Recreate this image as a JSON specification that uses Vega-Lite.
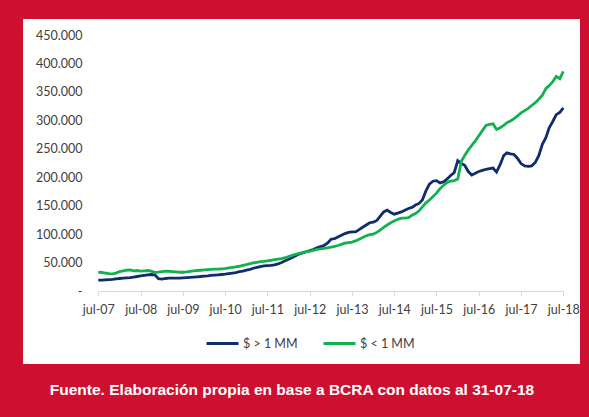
{
  "$schema": "https://vega.github.io/schema/vega-lite/v6.json",
  "width": 557,
  "height": 345,
  "autosize": {"type": "none"},
  "padding": {"left": 23, "top": 19, "right": 9, "bottom": 53},
  "background": "#CE1030",
  "title": {
    "text": "Fuente. Elaboración propia en base a BCRA con datos al 31-07-18",
    "orient": "bottom",
    "anchor": "middle",
    "frame": "group",
    "color": "white",
    "font": "Liberation Sans",
    "fontWeight": "bold",
    "fontSize": 15.5,
    "offset": 19,
    "dx": -9.5
  },
  "config": {
    "view": {"fill": "white", "stroke": null},
    "locale": {"number": {"decimal": ",", "thousands": ".", "grouping": [3], "currency": ["$", ""]}}
  },
  "data": {
    "format": {"parse": {"fecha": "date:'%Y-%m'"}},
    "values": [
      {"fecha": "2007-07", "$ > 1 MM": 19000, "$ < 1 MM": 33000},
      {"fecha": "2007-08", "$ > 1 MM": 19000, "$ < 1 MM": 32500},
      {"fecha": "2007-09", "$ > 1 MM": 19500, "$ < 1 MM": 31500},
      {"fecha": "2007-10", "$ > 1 MM": 20000, "$ < 1 MM": 30500},
      {"fecha": "2007-11", "$ > 1 MM": 20500, "$ < 1 MM": 30000},
      {"fecha": "2007-12", "$ > 1 MM": 21500, "$ < 1 MM": 31500},
      {"fecha": "2008-01", "$ > 1 MM": 22000, "$ < 1 MM": 34000},
      {"fecha": "2008-02", "$ > 1 MM": 22500, "$ < 1 MM": 35500},
      {"fecha": "2008-03", "$ > 1 MM": 23000, "$ < 1 MM": 36500},
      {"fecha": "2008-04", "$ > 1 MM": 23500, "$ < 1 MM": 37000},
      {"fecha": "2008-05", "$ > 1 MM": 24500, "$ < 1 MM": 35500},
      {"fecha": "2008-06", "$ > 1 MM": 25500, "$ < 1 MM": 36000},
      {"fecha": "2008-07", "$ > 1 MM": 26500, "$ < 1 MM": 35000},
      {"fecha": "2008-08", "$ > 1 MM": 27500, "$ < 1 MM": 35500},
      {"fecha": "2008-09", "$ > 1 MM": 28500, "$ < 1 MM": 36000},
      {"fecha": "2008-10", "$ > 1 MM": 29000, "$ < 1 MM": 35000},
      {"fecha": "2008-11", "$ > 1 MM": 28500, "$ < 1 MM": 32500},
      {"fecha": "2008-12", "$ > 1 MM": 21500, "$ < 1 MM": 33000},
      {"fecha": "2009-01", "$ > 1 MM": 21000, "$ < 1 MM": 34000},
      {"fecha": "2009-02", "$ > 1 MM": 22000, "$ < 1 MM": 35000},
      {"fecha": "2009-03", "$ > 1 MM": 22500, "$ < 1 MM": 34500},
      {"fecha": "2009-04", "$ > 1 MM": 22500, "$ < 1 MM": 34000},
      {"fecha": "2009-05", "$ > 1 MM": 22500, "$ < 1 MM": 33500},
      {"fecha": "2009-06", "$ > 1 MM": 22500, "$ < 1 MM": 33000},
      {"fecha": "2009-07", "$ > 1 MM": 23000, "$ < 1 MM": 33000},
      {"fecha": "2009-08", "$ > 1 MM": 23500, "$ < 1 MM": 33500},
      {"fecha": "2009-09", "$ > 1 MM": 24000, "$ < 1 MM": 34500},
      {"fecha": "2009-10", "$ > 1 MM": 24500, "$ < 1 MM": 35500},
      {"fecha": "2009-11", "$ > 1 MM": 25000, "$ < 1 MM": 36000},
      {"fecha": "2009-12", "$ > 1 MM": 25500, "$ < 1 MM": 36500},
      {"fecha": "2010-01", "$ > 1 MM": 26000, "$ < 1 MM": 37000},
      {"fecha": "2010-02", "$ > 1 MM": 26500, "$ < 1 MM": 37500},
      {"fecha": "2010-03", "$ > 1 MM": 27500, "$ < 1 MM": 38000},
      {"fecha": "2010-04", "$ > 1 MM": 28000, "$ < 1 MM": 38500},
      {"fecha": "2010-05", "$ > 1 MM": 28500, "$ < 1 MM": 38500},
      {"fecha": "2010-06", "$ > 1 MM": 29000, "$ < 1 MM": 39000},
      {"fecha": "2010-07", "$ > 1 MM": 29500, "$ < 1 MM": 39500},
      {"fecha": "2010-08", "$ > 1 MM": 30500, "$ < 1 MM": 40500},
      {"fecha": "2010-09", "$ > 1 MM": 31500, "$ < 1 MM": 41500},
      {"fecha": "2010-10", "$ > 1 MM": 32500, "$ < 1 MM": 42500},
      {"fecha": "2010-11", "$ > 1 MM": 34000, "$ < 1 MM": 43500},
      {"fecha": "2010-12", "$ > 1 MM": 35000, "$ < 1 MM": 45000},
      {"fecha": "2011-01", "$ > 1 MM": 36500, "$ < 1 MM": 46500},
      {"fecha": "2011-02", "$ > 1 MM": 38000, "$ < 1 MM": 48000},
      {"fecha": "2011-03", "$ > 1 MM": 40000, "$ < 1 MM": 49500},
      {"fecha": "2011-04", "$ > 1 MM": 41500, "$ < 1 MM": 50500},
      {"fecha": "2011-05", "$ > 1 MM": 43000, "$ < 1 MM": 51500},
      {"fecha": "2011-06", "$ > 1 MM": 44000, "$ < 1 MM": 52000},
      {"fecha": "2011-07", "$ > 1 MM": 44500, "$ < 1 MM": 53000},
      {"fecha": "2011-08", "$ > 1 MM": 45000, "$ < 1 MM": 54000},
      {"fecha": "2011-09", "$ > 1 MM": 46000, "$ < 1 MM": 55000},
      {"fecha": "2011-10", "$ > 1 MM": 47500, "$ < 1 MM": 56000},
      {"fecha": "2011-11", "$ > 1 MM": 50000, "$ < 1 MM": 57000},
      {"fecha": "2011-12", "$ > 1 MM": 53000, "$ < 1 MM": 58500},
      {"fecha": "2012-01", "$ > 1 MM": 56000, "$ < 1 MM": 60500},
      {"fecha": "2012-02", "$ > 1 MM": 59000, "$ < 1 MM": 62500},
      {"fecha": "2012-03", "$ > 1 MM": 62000, "$ < 1 MM": 64500},
      {"fecha": "2012-04", "$ > 1 MM": 65000, "$ < 1 MM": 66000},
      {"fecha": "2012-05", "$ > 1 MM": 67000, "$ < 1 MM": 67500},
      {"fecha": "2012-06", "$ > 1 MM": 69000, "$ < 1 MM": 69000},
      {"fecha": "2012-07", "$ > 1 MM": 71000, "$ < 1 MM": 70000},
      {"fecha": "2012-08", "$ > 1 MM": 73000, "$ < 1 MM": 71500},
      {"fecha": "2012-09", "$ > 1 MM": 76000, "$ < 1 MM": 73000},
      {"fecha": "2012-10", "$ > 1 MM": 78000, "$ < 1 MM": 74000},
      {"fecha": "2012-11", "$ > 1 MM": 80000, "$ < 1 MM": 75000},
      {"fecha": "2012-12", "$ > 1 MM": 84000, "$ < 1 MM": 76000},
      {"fecha": "2013-01", "$ > 1 MM": 91000, "$ < 1 MM": 77000},
      {"fecha": "2013-02", "$ > 1 MM": 92000, "$ < 1 MM": 78500},
      {"fecha": "2013-03", "$ > 1 MM": 95000, "$ < 1 MM": 80000},
      {"fecha": "2013-04", "$ > 1 MM": 98000, "$ < 1 MM": 82000},
      {"fecha": "2013-05", "$ > 1 MM": 101000, "$ < 1 MM": 84000},
      {"fecha": "2013-06", "$ > 1 MM": 103000, "$ < 1 MM": 85000},
      {"fecha": "2013-07", "$ > 1 MM": 104000, "$ < 1 MM": 86000},
      {"fecha": "2013-08", "$ > 1 MM": 104000, "$ < 1 MM": 88000},
      {"fecha": "2013-09", "$ > 1 MM": 108000, "$ < 1 MM": 91000},
      {"fecha": "2013-10", "$ > 1 MM": 112000, "$ < 1 MM": 94000},
      {"fecha": "2013-11", "$ > 1 MM": 116000, "$ < 1 MM": 97000},
      {"fecha": "2013-12", "$ > 1 MM": 120000, "$ < 1 MM": 99000},
      {"fecha": "2014-01", "$ > 1 MM": 121000, "$ < 1 MM": 100000},
      {"fecha": "2014-02", "$ > 1 MM": 124000, "$ < 1 MM": 103000},
      {"fecha": "2014-03", "$ > 1 MM": 131000, "$ < 1 MM": 107000},
      {"fecha": "2014-04", "$ > 1 MM": 139000, "$ < 1 MM": 112000},
      {"fecha": "2014-05", "$ > 1 MM": 142000, "$ < 1 MM": 116000},
      {"fecha": "2014-06", "$ > 1 MM": 138000, "$ < 1 MM": 120000},
      {"fecha": "2014-07", "$ > 1 MM": 135000, "$ < 1 MM": 123000},
      {"fecha": "2014-08", "$ > 1 MM": 137000, "$ < 1 MM": 126000},
      {"fecha": "2014-09", "$ > 1 MM": 139000, "$ < 1 MM": 128000},
      {"fecha": "2014-10", "$ > 1 MM": 142000, "$ < 1 MM": 128000},
      {"fecha": "2014-11", "$ > 1 MM": 145000, "$ < 1 MM": 129000},
      {"fecha": "2014-12", "$ > 1 MM": 147000, "$ < 1 MM": 133000},
      {"fecha": "2015-01", "$ > 1 MM": 151000, "$ < 1 MM": 136000},
      {"fecha": "2015-02", "$ > 1 MM": 154000, "$ < 1 MM": 141000},
      {"fecha": "2015-03", "$ > 1 MM": 160000, "$ < 1 MM": 148000},
      {"fecha": "2015-04", "$ > 1 MM": 176000, "$ < 1 MM": 155000},
      {"fecha": "2015-05", "$ > 1 MM": 188000, "$ < 1 MM": 160000},
      {"fecha": "2015-06", "$ > 1 MM": 193000, "$ < 1 MM": 166000},
      {"fecha": "2015-07", "$ > 1 MM": 194000, "$ < 1 MM": 172000},
      {"fecha": "2015-08", "$ > 1 MM": 190000, "$ < 1 MM": 180000},
      {"fecha": "2015-09", "$ > 1 MM": 192000, "$ < 1 MM": 186000},
      {"fecha": "2015-10", "$ > 1 MM": 197000, "$ < 1 MM": 191000},
      {"fecha": "2015-11", "$ > 1 MM": 203000, "$ < 1 MM": 193000},
      {"fecha": "2015-12", "$ > 1 MM": 208000, "$ < 1 MM": 194000},
      {"fecha": "2016-01", "$ > 1 MM": 229000, "$ < 1 MM": 197000},
      {"fecha": "2016-02", "$ > 1 MM": 224000, "$ < 1 MM": 228000},
      {"fecha": "2016-03", "$ > 1 MM": 221000, "$ < 1 MM": 238000},
      {"fecha": "2016-04", "$ > 1 MM": 210000, "$ < 1 MM": 248000},
      {"fecha": "2016-05", "$ > 1 MM": 204000, "$ < 1 MM": 256000},
      {"fecha": "2016-06", "$ > 1 MM": 207000, "$ < 1 MM": 264000},
      {"fecha": "2016-07", "$ > 1 MM": 210000, "$ < 1 MM": 273000},
      {"fecha": "2016-08", "$ > 1 MM": 212000, "$ < 1 MM": 282000},
      {"fecha": "2016-09", "$ > 1 MM": 214000, "$ < 1 MM": 291000},
      {"fecha": "2016-10", "$ > 1 MM": 215000, "$ < 1 MM": 293000},
      {"fecha": "2016-11", "$ > 1 MM": 216000, "$ < 1 MM": 294000},
      {"fecha": "2016-12", "$ > 1 MM": 209000, "$ < 1 MM": 284000},
      {"fecha": "2017-01", "$ > 1 MM": 222000, "$ < 1 MM": 287000},
      {"fecha": "2017-02", "$ > 1 MM": 238000, "$ < 1 MM": 291000},
      {"fecha": "2017-03", "$ > 1 MM": 243000, "$ < 1 MM": 296000},
      {"fecha": "2017-04", "$ > 1 MM": 241000, "$ < 1 MM": 299000},
      {"fecha": "2017-05", "$ > 1 MM": 240000, "$ < 1 MM": 303000},
      {"fecha": "2017-06", "$ > 1 MM": 233000, "$ < 1 MM": 308000},
      {"fecha": "2017-07", "$ > 1 MM": 224000, "$ < 1 MM": 313000},
      {"fecha": "2017-08", "$ > 1 MM": 220000, "$ < 1 MM": 317000},
      {"fecha": "2017-09", "$ > 1 MM": 219000, "$ < 1 MM": 321000},
      {"fecha": "2017-10", "$ > 1 MM": 220000, "$ < 1 MM": 326000},
      {"fecha": "2017-11", "$ > 1 MM": 226000, "$ < 1 MM": 331000},
      {"fecha": "2017-12", "$ > 1 MM": 238000, "$ < 1 MM": 337000},
      {"fecha": "2018-01", "$ > 1 MM": 258000, "$ < 1 MM": 344000},
      {"fecha": "2018-02", "$ > 1 MM": 270000, "$ < 1 MM": 356000},
      {"fecha": "2018-03", "$ > 1 MM": 287000, "$ < 1 MM": 361000},
      {"fecha": "2018-04", "$ > 1 MM": 298000, "$ < 1 MM": 368000},
      {"fecha": "2018-05", "$ > 1 MM": 310000, "$ < 1 MM": 377000},
      {"fecha": "2018-06", "$ > 1 MM": 314000, "$ < 1 MM": 373000},
      {"fecha": "2018-07", "$ > 1 MM": 322000, "$ < 1 MM": 386000}
    ]
  },
  "transform": [{"fold": ["$ > 1 MM", "$ < 1 MM"], "as": ["serie", "valor"]}],
  "mark": {"type": "line", "strokeWidth": 2.8},
  "encoding": {
    "x": {
      "field": "fecha",
      "type": "temporal",
      "scale": {
        "domain": [{"year": 2007, "month": 7, "date": 1}, {"year": 2018, "month": 7, "date": 1}],
        "range": [75.3, 540.3]
      },
      "axis": {
        "title": null,
        "orient": "bottom",
        "offset": -73,
        "values": [
          {"year": 2007, "month": 7, "date": 1}, {"year": 2008, "month": 7, "date": 1},
          {"year": 2009, "month": 7, "date": 1}, {"year": 2010, "month": 7, "date": 1},
          {"year": 2011, "month": 7, "date": 1}, {"year": 2012, "month": 7, "date": 1},
          {"year": 2013, "month": 7, "date": 1}, {"year": 2014, "month": 7, "date": 1},
          {"year": 2015, "month": 7, "date": 1}, {"year": 2016, "month": 7, "date": 1},
          {"year": 2017, "month": 7, "date": 1}, {"year": 2018, "month": 7, "date": 1}
        ],
        "labelExpr": "lower(timeFormat(datum.value, '%b-%y'))",
        "grid": false,
        "domainColor": "#D9D9D9",
        "tickColor": "#D9D9D9",
        "tickSize": 5,
        "labelPadding": 7,
        "labelFont": "Lato",
        "labelFontSize": 12.5,
        "labelColor": "#404040",
        "labelAngle": 0,
        "labelFlush": false,
        "labelOverlap": false
      }
    },
    "y": {
      "field": "valor",
      "type": "quantitative",
      "scale": {"domain": [0, 450000], "range": [272, 16], "nice": false},
      "axis": {
        "title": null,
        "orient": "left",
        "offset": -59,
        "values": [0, 50000, 100000, 150000, 200000, 250000, 300000, 350000, 400000, 450000],
        "format": ",d",
        "labelExpr": "datum.value == 0 ? '-\u00a0\u00a0\u00a0' : datum.label",
        "grid": false,
        "domain": false,
        "ticks": false,
        "tickSize": 0,
        "labelPadding": 0,
        "labelFont": "Lato",
        "labelFontSize": 12.5,
        "labelColor": "#404040"
      }
    },
    "color": {
      "field": "serie",
      "type": "nominal",
      "scale": {"domain": ["$ > 1 MM", "$ < 1 MM"], "range": ["#0E2C6E", "#12B04E"]},
      "legend": {
        "title": null,
        "orient": "none",
        "direction": "horizontal",
        "legendX": 182,
        "legendY": 307,
        "padding": 0,
        "symbolType": "stroke",
        "symbolSize": 1024,
        "symbolStrokeWidth": 3,
        "labelOffset": 3,
        "columnPadding": 19,
        "labelFont": "Lato",
        "labelFontSize": 12.5,
        "labelColor": "#404040"
      }
    }
  }
}
